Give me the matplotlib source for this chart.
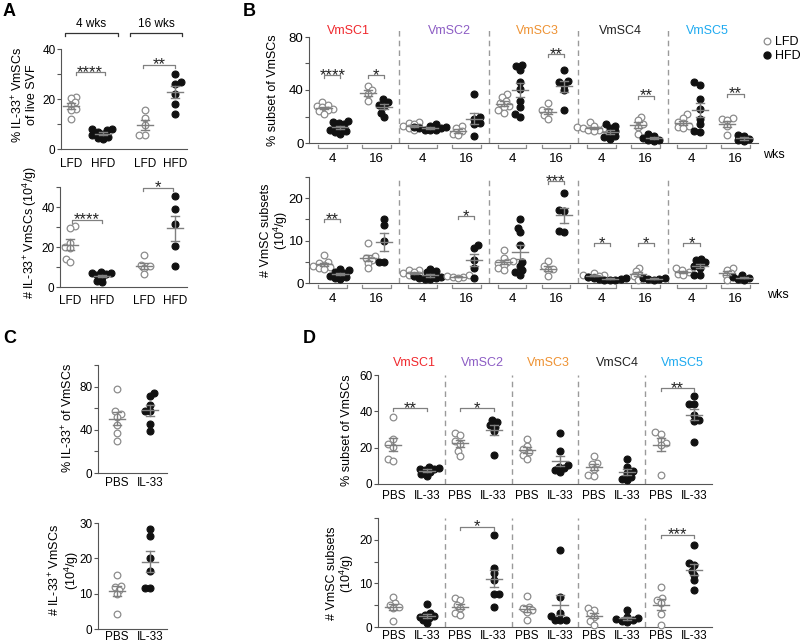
import numpy as np
import matplotlib.pyplot as plt
from matplotlib.ticker import MultipleLocator

plt.rcParams['font.family'] = ['Liberation Sans', 'DejaVu Sans']
plt.rcParams['mathtext.default'] = 'regular'
plt.rcParams['font.size'] = 8

# ---------------- data ----------------
# A: IL-33+ VmSCs, LFD vs HFD at 4 and 16 wks
a_groups = ['LFD', 'HFD', 'LFD', 'HFD']
a_weeks = ['4 wks', '16 wks']
a_pct_lfd4 = [21, 20.5, 19, 17.5, 16, 15.5, 12]
a_pct_hfd4 = [8, 8, 7.5, 7, 6, 5.5, 5, 4.5, 4]
a_pct_lfd16 = [15.5, 12.5, 9.5, 5.5, 5.5]
a_pct_hfd16 = [30, 27, 26, 22, 18, 14]
a_num_lfd4 = [30.5, 29.5, 22, 20, 19.5, 14, 12.5]
a_num_hfd4 = [7.5, 7, 7, 6.5, 6, 5, 3, 2.5]
a_num_lfd16 = [16, 11, 10.5, 9.5, 6.5]
a_num_hfd16 = [45.5, 39, 31.5, 20.5, 10.5]

# B: subsets, each [LFD 4wk, HFD 4wk, LFD 16wk, HFD 16wk]
subsets = ['VmSC1', 'VmSC2', 'VmSC3', 'VmSC4', 'VmSC5']
subset_colors = ['#f0282d', '#8c5cc4', '#ee9233', '#222222', '#1eaaf0']
b_weeks = ['4', '16']
b_pct_vmsc1 = [[31, 29, 28, 27, 26, 25, 24, 22], [16.5, 16, 15, 14, 12, 11, 10, 9, 8, 7],
               [43, 40, 37, 32], [33, 31, 29, 28, 23, 20]]
b_pct_vmsc2 = [[16, 15, 14, 13, 12, 11, 10], [14, 13, 12, 12, 11, 11, 10, 10, 9.5],
               [12.5, 11, 9, 7, 6], [37, 20, 18, 15, 14, 5.5]]
b_pct_vmsc3 = [[37, 35, 32, 30, 28, 27, 25, 23], [59, 58, 55, 46, 41, 32, 27, 22, 20],
               [30, 25, 24, 21, 18], [55, 47, 46, 44, 40, 25]]
b_pct_vmsc4 = [[16, 13, 12, 11, 11, 10, 10, 9], [14, 13, 11, 9, 7, 5, 4.5, 3],
               [20, 17, 14, 12, 6.5], [7, 5, 3.5, 2.5, 2, 1.5]]
b_pct_vmsc5 = [[22, 19, 16, 15, 13, 12, 11], [46, 44, 33, 26, 18, 14, 9, 8],
               [19, 18, 17, 13, 6], [6, 5, 3, 2, 1.5]]
b_num_vmsc1 = [[6.6, 5, 4.6, 4.3, 4, 3.8, 3.5, 3.2], [3.4, 3, 2.7, 2.4, 2, 1.7, 1.4, 1.1, 1],
               [9.4, 6.3, 5.9, 5.5, 4.7, 3.5], [15.1, 13.7, 10, 4.9, 4.9]]
b_num_vmsc2 = [[3.1, 3, 2.7, 2.3, 2, 1.8, 1.6], [3.2, 2.9, 2.5, 2, 1.6, 1.4, 1.2, 1.1, 1, 1],
               [1.9, 1.6, 1.4, 1.3, 1.2], [9, 8.2, 5.5, 3.5, 1.2]]
b_num_vmsc3 = [[7.9, 5.9, 5.3, 5, 4.7, 4.2, 3.6, 3.1], [15, 13, 12, 9, 5, 4, 3, 2.5, 2],
               [5.1, 3.9, 3.3, 3, 1.6], [21.3, 17.3, 17, 12.3, 12]]
b_num_vmsc4 = [[2.4, 2, 1.8, 1.6, 1.4, 1.3], [1.4, 1.2, 1.1, 1, 0.9, 0.8, 0.8, 0.7],
               [3.5, 2.8, 2, 1.6, 0.8], [1.2, 1.1, 1, 0.9, 0.8]]
b_num_vmsc5 = [[3.5, 3, 2.6, 2.2, 2], [5.7, 5.4, 5, 4.6, 4, 3.5, 2, 1.8],
               [3.5, 3, 2.3, 1.8, 0.8], [1.8, 1.5, 1.2, 1, 0.8]]
# (subset, week, stars, height)
b_pct_sig = [(0, 0, '****', 51), (0, 1, '*', 51), (2, 1, '**', 67), (3, 1, '**', 35.5), (4, 1, '**', 37)]
b_num_sig = [(0, 0, '**', 15), (1, 1, '*', 15.7), (2, 1, '***', 24), (3, 0, '*', 9.4),
             (3, 1, '*', 9.4), (4, 0, '*', 9.4)]

# C: PBS vs IL-33
c_groups = ['PBS', 'IL-33']
c_pct_pbs = [78, 57, 55, 52, 44, 37, 30]
c_pct_il33 = [74.5, 71.5, 63, 57, 57, 45, 39]
c_num_pbs = [15.4, 12.3, 12, 11, 9.8, 4.3]
c_num_il33 = [28.3, 26.2, 20.2, 16.3, 11.7, 11.5]

# D: subsets, each [PBS, IL-33]
d_pct_vmsc1 = [[36.7, 25, 22, 20.5, 13.5, 12.5], [9.5, 9, 8.5, 8, 7.5, 6.5, 5.5, 4.5]]
d_pct_vmsc2 = [[28, 27, 23.5, 22, 18, 15.5], [35, 34, 32.5, 31.5, 29, 16]]
d_pct_vmsc3 = [[25, 21, 19, 17.5, 16, 14], [27.9, 18.3, 10.5, 9.5, 8.6, 7.7, 6.8]]
d_pct_vmsc4 = [[15.4, 11.4, 11, 8.5, 5, 4.4], [13.6, 9.5, 7, 6, 4, 3, 2.2]]
d_pct_vmsc5 = [[28.8, 27.5, 24.2, 22.4, 21.5, 5], [48.4, 44, 44, 38, 35.2, 34.9, 23]]
d_num_vmsc1 = [[6.8, 5.5, 5, 4.7, 4.3, 1.3], [5.2, 3.3, 2.7, 2.5, 2.4, 2, 1.6, 0.9]]
d_num_vmsc2 = [[6.6, 6.2, 5.1, 4.3, 3.2, 2.8], [21, 13.6, 12.3, 10.8, 7.6, 7.6, 4.7]]
d_num_vmsc3 = [[7.1, 4.7, 4.3, 3.9, 3.5, 1.7], [17.7, 6.8, 3.2, 2.5, 1.7, 1.7, 1.6]]
d_num_vmsc4 = [[4.3, 3.9, 3.2, 2.4, 1.3, 0.5], [3.9, 2.3, 2, 1.8, 1.5, 1.3, 1.1]]
d_num_vmsc5 = [[9.1, 6.6, 6.2, 5.5, 3, 0.5], [18.9, 14.7, 14.2, 12.9, 11.9, 10.8, 8.5]]
d_pct_sig = [(0, '**', 41.6), (1, '*', 41.6), (4, '**', 52.7)]
d_num_sig = [(1, '*', 23), (4, '***', 21.2)]

a_pct = [a_pct_lfd4, a_pct_hfd4, a_pct_lfd16, a_pct_hfd16]
a_num = [a_num_lfd4, a_num_hfd4, a_num_lfd16, a_num_hfd16]
b_pct = [b_pct_vmsc1, b_pct_vmsc2, b_pct_vmsc3, b_pct_vmsc4, b_pct_vmsc5]
b_num = [b_num_vmsc1, b_num_vmsc2, b_num_vmsc3, b_num_vmsc4, b_num_vmsc5]
d_pct = [d_pct_vmsc1, d_pct_vmsc2, d_pct_vmsc3, d_pct_vmsc4, d_pct_vmsc5]
d_num = [d_num_vmsc1, d_num_vmsc2, d_num_vmsc3, d_num_vmsc4, d_num_vmsc5]

# ---------------- drawing ----------------
W, H = 800, 644
AX = '#555555'
EB = '#7f7f7f'
OPEN = '#8c8c8c'
fig = plt.figure(figsize=(W / 100, H / 100), dpi=100)


def make_ax(l, t, r, b, xlim, ylim, major, minor=None, fs=8.5):
    ax = fig.add_axes([l / W, 1 - b / H, (r - l) / W, (b - t) / H])
    ax.set_xlim(*xlim)
    ax.set_ylim(*ylim)
    ax.yaxis.set_major_locator(MultipleLocator(major))
    if minor:
        ax.yaxis.set_minor_locator(MultipleLocator(minor))
    ax.spines[['top', 'right']].set_visible(False)
    for s in ['left', 'bottom']:
        ax.spines[s].set_color(AX)
        ax.spines[s].set_linewidth(0.8)
    ax.tick_params(axis='y', which='both', direction='out', length=3, width=0.8,
                   color=AX, pad=1, labelsize=fs)
    ax.tick_params(axis='x', length=0, pad=5, labelsize=fs)
    ax.patch.set_alpha(0)
    ax.ppx = (r - l) / (xlim[1] - xlim[0])
    ax.ppy = (b - t) / (ylim[1] - ylim[0])
    return ax


def swarm(ypx, d=4.6, step=1.8):
    out = np.zeros(len(ypx))
    placed = []
    for n, i in enumerate(np.argsort(ypx)):
        k = 0
        pick = None
        while pick is None:
            sgn = 1 if n % 2 == 0 else -1
            cands = [0.0] if k == 0 else [sgn * k * step, -sgn * k * step]
            for c in cands:
                if all((c - px) ** 2 + (ypx[i] - py) ** 2 >= d * d for px, py in placed):
                    pick = c
                    break
            k += 1
        out[i] = pick
        placed.append((pick, ypx[i]))
    return out


def group(ax, x, vals, filled):
    vals = np.asarray(vals, float)
    xs = x + swarm(vals * ax.ppy) / ax.ppx
    if filled:
        ax.plot(xs, vals, 'o', ms=5, mfc='#111111', mec='#111111', mew=0.8, ls='none',
                zorder=3, clip_on=False)
    else:
        ax.plot(xs, vals, 'o', ms=4.8, mfc='white', mec=OPEN, mew=0.9, ls='none',
                zorder=3, clip_on=False)
    m = vals.mean()
    se = vals.std(ddof=1) / np.sqrt(len(vals))
    hw, cw = 8 / ax.ppx, 4 / ax.ppx
    ax.plot([x - hw, x + hw], [m, m], color=EB, lw=1, zorder=4)
    ax.plot([x, x], [m - se, m + se], color=EB, lw=1, zorder=4)
    for yy in (m - se, m + se):
        ax.plot([x - cw, x + cw], [yy, yy], color=EB, lw=1, zorder=4)


def sig(ax, x1, x2, y, txt):
    d = 3 / ax.ppy
    ax.plot([x1, x1, x2, x2], [y - d, y, y, y - d], color='#808080', lw=0.9, clip_on=False)
    ax.text((x1 + x2) / 2, y - 4.5 / ax.ppy, txt, ha='center', va='baseline', fontsize=12,
            color='#222222', clip_on=False)


def ylab(x, y, txt, fs=8.5):
    fig.text(x / W, 1 - y / H, txt, rotation=90, ha='center', va='center',
             ma='center', fontsize=fs, linespacing=1.0)


def dividers(ax, top):
    for s in range(1, 5):
        ax.axvline(10 * s, ymin=0, ymax=top, color='#9a9a9a', lw=1, ls=(0, (4, 3)),
                   clip_on=False)


# ---- A ----
a_x = [1, 2, 3.3, 4.25]
a_filled = [False, True, False, True]
axA1 = make_ax(61, 49, 187, 149, (0.69, 4.62), (0, 40), 20, 10)
axA2 = make_ax(60, 187, 187, 287, (0.69, 4.62), (0, 50), 20, 10)
for ax, data in [(axA1, a_pct), (axA2, a_num)]:
    for x, v, f in zip(a_x, data, a_filled):
        group(ax, x, v, f)
    ax.set_xticks(a_x, a_groups)
axA1.tick_params(axis='x', pad=6.5)
axA2.tick_params(axis='x', pad=5.5)
for (x1, x2), lab in zip([(0.81, 2.47), (2.85, 4.47)], a_weeks):
    y0 = 46.4
    d = 3 / axA1.ppy
    axA1.plot([x1, x1, x2, x2], [y0 - d, y0, y0, y0 - d], color='#333333', lw=0.9, clip_on=False)
    axA1.text((x1 + x2) / 2, y0 + 3 / axA1.ppy, lab, ha='center', va='bottom', fontsize=8.5)
sig(axA1, 1.15, 2.05, 30.7, '****')
sig(axA1, 3.25, 4.25, 33.7, '**')
sig(axA2, 1.05, 2.0, 33.7, '****')
sig(axA2, 3.25, 4.2, 49.7, '*')
ylab(24, 95, '% IL-33$^{+}$ VmSCs\nof live SVF', 9)
ylab(30, 232, '# IL-33$^{+}$ VmSCs (10$^{4}$/g)', 9)

# ---- B ----
b_off = [1.7, 3.5, 6.6, 8.4]
b_title_x = [4.4, 15.6, 25.4, 34.7, 44.4]
axB1 = make_ax(309, 37, 758, 143, (0, 50), (0, 80), 40, 20, fs=9.5)
axB2 = make_ax(309, 177, 758, 283, (0, 50), (0, 25), 10, 5, fs=9.5)
for ax, data, sigs in [(axB1, b_pct, b_pct_sig), (axB2, b_num, b_num_sig)]:
    for s, sub in enumerate(data):
        for j, vals in enumerate(sub):
            group(ax, 10 * s + b_off[j], vals, j % 2 == 1)
    mids = []
    for s in range(5):
        for j in range(2):
            mid = 10 * s + (b_off[2 * j] + b_off[2 * j + 1]) / 2
            mids.append(mid)
            y0, y1 = -4.5 / ax.ppy, -1.5 / ax.ppy
            ax.plot([mid - 1.6, mid - 1.6, mid + 1.6, mid + 1.6], [y1, y0, y0, y1],
                    color='#8c8c8c', lw=0.9, clip_on=False)
    ax.set_xticks(mids, b_weeks * 5)
    ax.tick_params(axis='x', pad=7)
    for s, j, txt, y in sigs:
        sig(ax, 10 * s + b_off[2 * j], 10 * s + b_off[2 * j + 1], y, txt)
dividers(axB1, 1.085)
dividers(axB2, 1.0)
for x, name, c in zip(b_title_x, subsets, subset_colors):
    axB1.text(x, 80 + 6 / axB1.ppy, name, color=c, ha='center', va='center', fontsize=9)
fig.text(763 / W, 1 - 155 / H, 'wks', va='center', fontsize=9)
fig.text(767 / W, 1 - 295 / H, 'wks', va='center', fontsize=9)
h1, = axB1.plot([], [], 'o', ms=4.8, mfc='white', mec=OPEN, mew=0.9, ls='none')
h2, = axB1.plot([], [], 'o', ms=5, mfc='#111111', mec='#111111', ls='none')
axB1.legend([h1, h2], ['LFD', 'HFD'], loc='upper left', bbox_to_anchor=(762 / W, 1 - 36 / H),
            bbox_transform=fig.transFigure, frameon=False, handlelength=0.8,
            handletextpad=0.2, borderpad=0, labelspacing=0.15, borderaxespad=0, fontsize=9)
ylab(273, 90, '% subset of VmSCs', 9)
ylab(275, 230, '# VmSC subsets\n(10$^{4}$/g)', 9)

# ---- C ----
c_x = [1, 2]
axC1 = make_ax(98, 365, 167, 473, (0.42, 2.52), (0, 100), 40, 20)
axC2 = make_ax(98, 523, 167, 629, (0.42, 2.52), (0, 30), 10)
for ax, data in [(axC1, [c_pct_pbs, c_pct_il33]), (axC2, [c_num_pbs, c_num_il33])]:
    for x, v, f in zip(c_x, data, [False, True]):
        group(ax, x, v, f)
    ax.set_xticks(c_x, c_groups)
axC1.tick_params(axis='x', pad=3)
axC2.tick_params(axis='x', pad=1.5)
ylab(68, 418, '% IL-33$^{+}$ of VmSCs', 9)
ylab(64, 570, '# IL-33$^{+}$ VmSCs\n(10$^{4}$/g)', 9)

# ---- D ----
d_off = [2.3, 7.3]
d_title_x = [5.5, 15.7, 25.5, 35.8, 45.6]
axD1 = make_ax(378, 375, 712, 484, (0, 50), (0, 60), 20)
axD2 = make_ax(378, 518, 712, 627, (0, 50), (0, 25), 10, 5)
for ax, data, sigs in [(axD1, d_pct, d_pct_sig), (axD2, d_num, d_num_sig)]:
    ticks = []
    for s, sub in enumerate(data):
        for j, vals in enumerate(sub):
            group(ax, 10 * s + d_off[j], vals, j == 1)
            ticks.append(10 * s + d_off[j])
    ax.set_xticks(ticks, c_groups * 5)
    for s, txt, y in sigs:
        sig(ax, 10 * s + d_off[0], 10 * s + d_off[1], y, txt)
    dividers(ax, 1.0)
axD1.tick_params(axis='x', pad=4.5)
axD2.tick_params(axis='x', pad=2)
for x, name, c in zip(d_title_x, subsets, subset_colors):
    axD1.text(x, 60 + 12 / axD1.ppy, name, color=c, ha='center', va='center', fontsize=9)
ylab(347, 430, '% subset of VmSCs', 9)
ylab(341, 573, '# VmSC subsets\n(10$^{4}$/g)', 9)

# panel letters
for x, y, t in [(3, 12, 'A'), (243, 12, 'B'), (3, 338, 'C'), (303, 338, 'D')]:
    fig.text(x / W, 1 - y / H, t, fontsize=13, fontweight='bold', va='center')

fig.savefig('out.png', dpi=100)
